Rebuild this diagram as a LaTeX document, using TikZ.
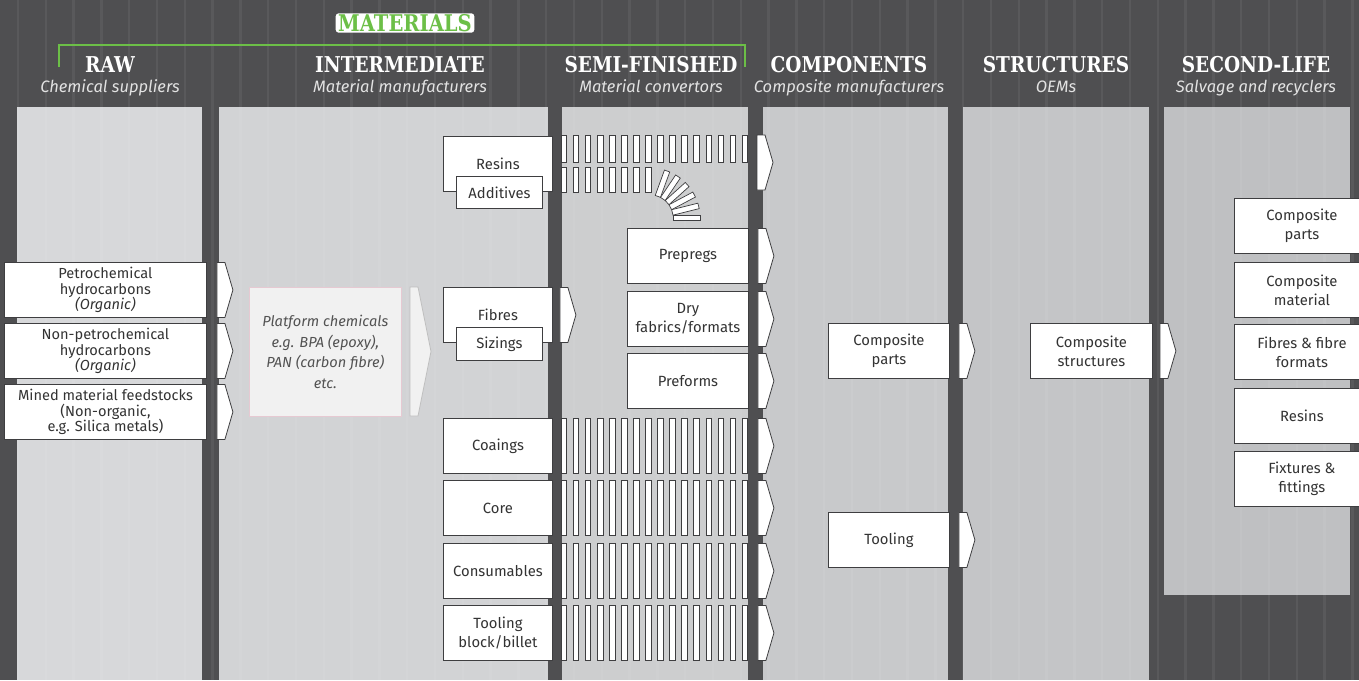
\documentclass[tikz,border=0pt]{standalone}
\usepackage{fontspec}
\setmainfont{Fira Sans}
\newfontfamily\slabfont[FakeStretch=0.85]{DejaVu Serif}
\usetikzlibrary{positioning}

\definecolor{bgdark}{HTML}{4F4F51}
\definecolor{panelA}{HTML}{D7D8DA}
\definecolor{panelB}{HTML}{D2D3D5}
\definecolor{panelC}{HTML}{CDCECF}
\definecolor{panelD}{HTML}{C8C9CB}
\definecolor{panelE}{HTML}{C4C5C7}
\definecolor{panelF}{HTML}{BFC0C2}
\definecolor{matgreen}{HTML}{6CBF47}
\definecolor{boxline}{HTML}{3E3E40}
\definecolor{boxtext}{HTML}{333333}
\definecolor{subgray}{HTML}{E2E2E2}
\definecolor{platfill}{HTML}{F1F1F1}
\definecolor{platline}{HTML}{E6C9D2}

\tikzset{
  box/.style={draw=boxline, fill=white, line width=0.9pt, text=boxtext,
    font=\fontsize{14.8}{19}\selectfont, align=center, inner sep=0pt,
    anchor=north west, minimum height=55},
  rawbox/.style={box, minimum width=202, font=\fontsize{14.6}{15.6}\selectfont},
  head/.style={text=white, font=\slabfont\bfseries\fontsize{21.8}{23}\selectfont, anchor=base},
  sub/.style={text=subgray, font=\itshape\fontsize{16.5}{18}\selectfont, anchor=base},
  stripe/.style={draw=boxline, fill=white, line width=0.7pt},
  pics/chev/.style={code={
    \draw[draw=boxline, fill=white, line width=0.8pt]
      (0,-#1) -- (8,-#1) -- (16,0) -- (8,#1) -- (0,#1) -- cycle;}},
}

\begin{document}
\begin{tikzpicture}[x=1pt, y=-1pt]
  \useasboundingbox (0,0) rectangle (1359,680);
  \clip (0,0) rectangle (1359,680);
  \fill[bgdark] (0,0) rectangle (1359,680);

  % column panels
  \fill[panelA] (17,107) rectangle (202,680);
  \fill[panelB] (219,107) rectangle (548,680);
  \fill[panelC] (562,107) rectangle (748,680);
  \fill[panelD] (763,107) rectangle (948,680);
  \fill[panelE] (963,107) rectangle (1149,680);
  \fill[panelF] (1164,107) rectangle (1350,595);

  % faint vertical banding
  \foreach \x in {0,...,49}
    \draw[white, opacity=0.06, line width=2.5pt] ({18+27.8*\x},0) -- ({18+27.8*\x},680);

  % materials bracket
  \draw[matgreen, line width=1.5pt] (59,67) -- (59,45) -- (745,45) -- (745,67);
  \node[fill=white, rounded corners=3pt, inner xsep=2.5pt, inner ysep=1pt, text=matgreen,
    font=\slabfont\bfseries\fontsize{23}{25}\selectfont] (mat) at (405,23) {MATERIALS};

  % column headings
  \node[head] (hraw) at (110,72) {RAW};
  \node[sub] (sraw) at (110,92) {Chemical suppliers};
  \node[head] (hint) at (400,72) {INTERMEDIATE};
  \node[sub] (sint) at (400,92) {Material manufacturers};
  \node[head] (hsemi) at (651,72) {SEMI-FINISHED};
  \node[sub] (ssemi) at (651,92) {Material convertors};
  \node[head] (hcomp) at (849,72) {COMPONENTS};
  \node[sub] (scomp) at (849,92) {Composite manufacturers};
  \node[head] (hstr) at (1056,72) {STRUCTURES};
  \node[sub] (sstr) at (1056,92) {OEMs};
  \node[head] (hsec) at (1256,72) {SECOND-LIFE};
  \node[sub] (ssec) at (1256,92) {Salvage and recyclers};

  % raw feedstocks
  \node[rawbox] (petro) at (4,262) {Petrochemical\\hydrocarbons\\\textit{(Organic)}};
  \node[rawbox] (nonpetro) at (4,323) {Non-petrochemical\\hydrocarbons\\\textit{(Organic)}};
  \node[rawbox] (mined) at (4,384) {Mined material feedstocks\\(Non-organic,\\e.g. Silica metals)};
  \foreach \n in {petro,nonpetro,mined}
    \pic at ([xshift=10]\n.east) {chev=27.5};

  \node[box, fill=platfill, draw=platline, line width=0.6pt, minimum width=152, minimum height=129,
    text=boxtext!85, font=\itshape\fontsize{14.6}{20.5}\selectfont] (plat) at (249,287)
    {Platform chemicals\\e.g. BPA (epoxy),\\PAN (carbon fibre)\\etc.};
  \draw[fill=platfill, draw=black!25, line width=0.8pt]
    (410,287) -- (418,287) -- (431,351.5) -- (418,416) -- (410,416) -- cycle;

  % stripe rows across the semi-finished column
  \foreach \k in {0,...,15}
    \draw[stripe] ({561+12.07*\k},135) rectangle +(5.7,27);
  \foreach \k in {0,...,7}
    \draw[stripe] ({561+12.07*\k},167) rectangle +(5.7,25);
  \foreach \a in {70,56,42,28,14,0}
    \draw[stripe, shift={(650,218)}, rotate=\a] (23,-2.8) rectangle (50,2.8);
  \foreach \y in {418,480,543,605}
    \foreach \k in {0,...,15}
      \draw[stripe] ({561+12.07*\k},\y) rectangle +(5.7,55);

  % intermediate products
  \node[box, minimum width=109] (resins) at (443,136) {Resins};
  \node[box, minimum width=86, minimum height=32] (addit) at (456,176) {Additives};
  \node[box, minimum width=109] (fibres) at (443,287) {Fibres};
  \node[box, minimum width=86, minimum height=33] (sizing) at (456,327) {Sizings};
  \pic at ([xshift=7]fibres.east) {chev=27.5};
  \node[box, minimum width=109] (coat) at (443,418) {Coaings};
  \node[box, minimum width=109] (core) at (443,480) {Core};
  \node[box, minimum width=109] (consum) at (443,543) {Consumables};
  \node[box, minimum width=109] (billet) at (443,605) {Tooling\\block/billet};

  % semi-finished products
  \node[box, minimum width=121] (prepreg) at (627,228) {Prepregs};
  \node[box, minimum width=121] (dryfab) at (627,291) {Dry\\fabrics/formats};
  \node[box, minimum width=121] (preform) at (627,353) {Preforms};
  \pic at (757,162.5) {chev=27.5};
  \foreach \n in {prepreg,dryfab,preform}
    \pic at ([xshift=9]\n.east) {chev=27.5};
  \foreach \n in {coat,core,consum,billet}
    \pic at ([xshift=205]\n.east) {chev=27.5};

  % components and structures
  \node[box, minimum width=121] (cparts) at (828,323) {Composite\\parts};
  \node[box, minimum width=121] (tooling) at (828,512) {Tooling};
  \pic at ([xshift=9]cparts.east) {chev=27.5};
  \pic at ([xshift=9]tooling.east) {chev=27.5};
  \node[box, minimum width=122] (cstruct) at (1030,323) {Composite\\structures};
  \pic at ([xshift=7]cstruct.east) {chev=27.5};

  % second-life outputs
  \node[box, minimum width=135] (slparts) at (1234,198) {Composite\\parts};
  \node[box, minimum width=135] (slmat) at (1234,262) {Composite\\material};
  \node[box, minimum width=135] (slfib) at (1234,324) {Fibres \& fibre\\formats};
  \node[box, minimum width=135] (slres) at (1234,388) {Resins};
  \node[box, minimum width=135] (slfix) at (1234,451) {Fixtures \&\\fittings};
\end{tikzpicture}
\end{document}
